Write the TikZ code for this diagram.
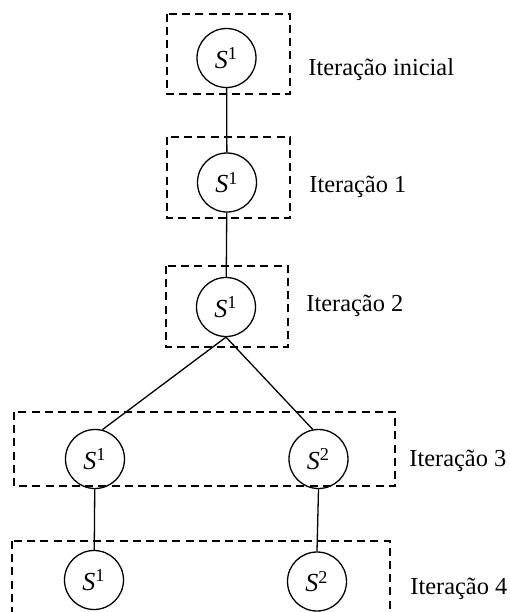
\documentclass[tikz,border=0pt]{standalone}
\usepackage{fontspec}
\setmainfont{Liberation Serif}
\begin{document}
\begin{tikzpicture}[x=0.5pt,y=-0.5pt,
  state/.style={circle,draw,line width=0.65pt,inner sep=0pt,minimum size=29.5pt,font=\fontsize{13}{15}\selectfont},
  iterbox/.style={draw,line width=0.6pt,dash pattern=on 4pt off 2.6pt},
  lbl/.style={anchor=base west,inner sep=0pt,font=\fontsize{12.2}{14}\selectfont},
  edge/.style={line width=0.65pt}]
\useasboundingbox (0,0) rectangle (510,612);
% dashed iteration boxes
\draw[iterbox] (167,14) rectangle (290,94);
\draw[iterbox] (167,137) rectangle (290,218);
\draw[iterbox] (166,266) rectangle (288,347);
\draw[iterbox] (14,412) rectangle (395,486);
\draw[iterbox] (12,541) rectangle (390,630);
% states
\node[state] (c1) at (226.5,58) {\textit{S}\textsuperscript{1}};
\node[state] (c2) at (227,182.5) {\textit{S}\textsuperscript{1}};
\node[state] (c3) at (226,307) {\textit{S}\textsuperscript{1}};
\node[state] (c4a) at (95,459) {\textit{S}\textsuperscript{1}};
\node[state] (c4b) at (318.5,459) {\textit{S}\textsuperscript{2}};
\node[state] (c5a) at (94,580) {\textit{S}\textsuperscript{1}};
\node[state] (c5b) at (317,581.5) {\textit{S}\textsuperscript{2}};
% connectors
\draw[edge] (c1) -- (c2);
\draw[edge] (c2) -- (c3);
\draw[edge] (c3.south) -- (c4a.76);
\draw[edge] (c3.south) -- (c4b.101);
\draw[edge] (c4a) -- (c5a);
\draw[edge] (c4b.south) -- (c5b.north);
% labels
\node[lbl] (l1) at (308,75) {Iteração inicial};
\node[lbl] (l2) at (309,192.7) {Iteração 1};
\node[lbl] (l3) at (306,311.7) {Iteração 2};
\node[lbl] (l4) at (409,466.7) {Iteração 3};
\node[lbl] (l5) at (410,594) {Iteração 4};
\end{tikzpicture}
\end{document}
